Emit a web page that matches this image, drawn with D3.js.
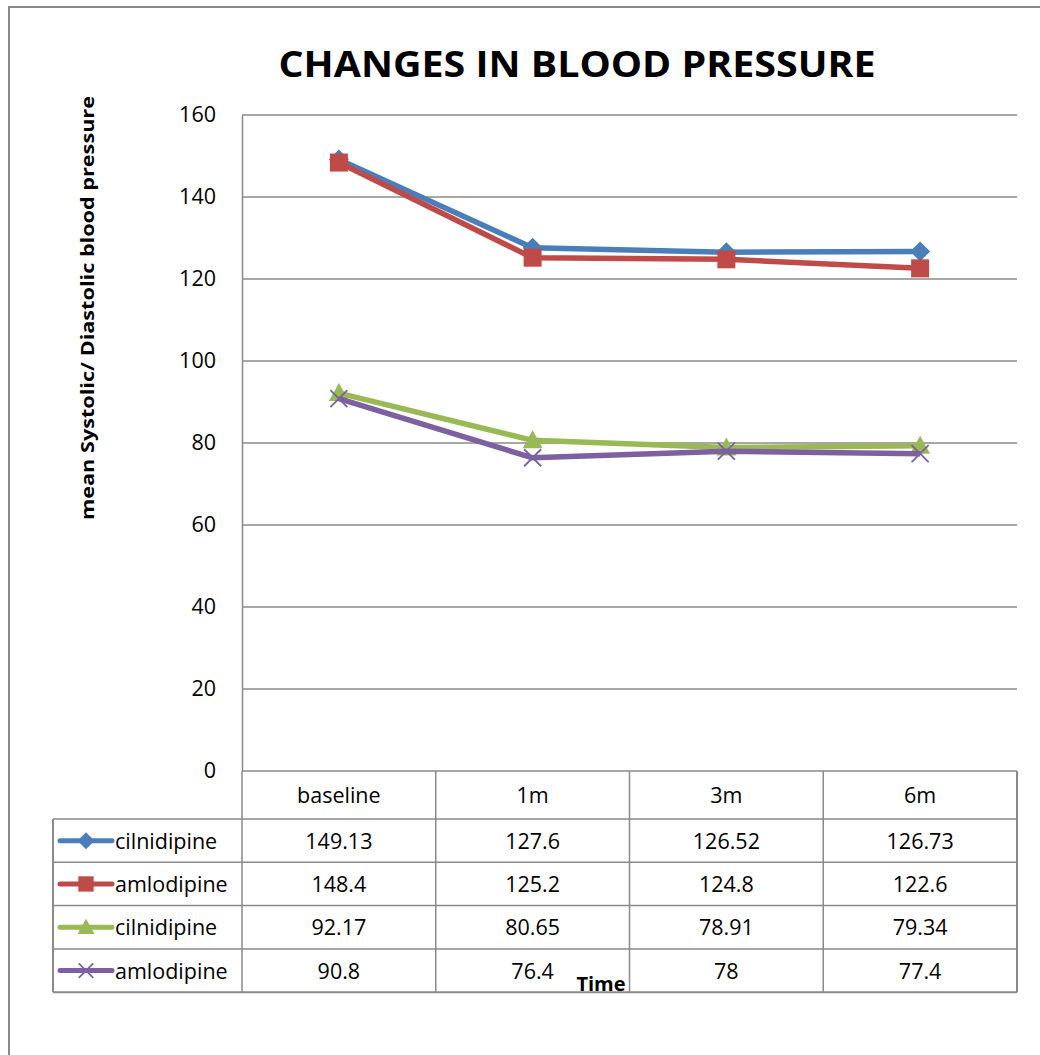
<!DOCTYPE html>
<html>
<head>
<meta charset="utf-8">
<script src="https://cdn.jsdelivr.net/npm/d3@7"></script>
<style>
  html, body { margin: 0; padding: 0; background: #fff; }
  svg { display: block; font-family: "Open Sans", "Liberation Sans", sans-serif; }
</style>
</head>
<body>
<div id="chart"></div>
<script>
// chart data
var categories = ["baseline", "1m", "3m", "6m"];
var seriesNames = ["cilnidipine", "amlodipine", "cilnidipine", "amlodipine"];
var cilSystolic = [149.13, 127.6, 126.52, 126.73];
var amlSystolic = [148.4, 125.2, 124.8, 122.6];
var cilDiastolic = [92.17, 80.65, 78.91, 79.34];
var amlDiastolic = [90.8, 76.4, 78, 77.4];
var yTicks = [0, 20, 40, 60, 80, 100, 120, 140, 160];

var series = [cilSystolic, amlSystolic, cilDiastolic, amlDiastolic];
var colors = ["#4A7EBB", "#BE4B48", "#98B954", "#7D60A0"];
var markerTypes = ["diamond", "square", "triangle", "cross"];

var W = 1040, H = 1055;
var plot = {left: 242, right: 1017, top: 115, bottom: 771};
var rowH = 43.3, headH = 48, tableLeft = 53;
var grey = "#8a8a8a";
var fs = 21.5;

var svg = d3.select("#chart").append("svg")
    .attr("width", W).attr("height", H);

// outer frame (right and bottom lie outside the picture)
svg.append("path")
    .attr("d", "M9,1055 V7 H1040")
    .attr("fill", "none").attr("stroke", grey).attr("stroke-width", 2);

var x = d3.scaleBand().domain(categories).range([plot.left, plot.right]);
var y = d3.scaleLinear().domain([0, 160]).range([plot.bottom, plot.top]);

// gridlines
svg.append("g").selectAll("line").data(yTicks).enter().append("line")
    .attr("x1", plot.left).attr("x2", plot.right)
    .attr("y1", function(d) { return y(d); })
    .attr("y2", function(d) { return y(d); })
    .attr("stroke", grey).attr("stroke-width", 1.5);

// y axis
var yAxis = svg.append("g")
    .attr("transform", "translate(" + plot.left + ",0)")
    .call(d3.axisLeft(y).tickValues(yTicks).tickSize(0).tickPadding(26));
yAxis.select(".domain").attr("stroke", grey).attr("stroke-width", 1.5);
yAxis.selectAll("text").attr("font-size", fs).attr("fill", "#000")
    .attr("font-family", "Open Sans");

// title
svg.append("text")
    .attr("x", 577).attr("y", 77)
    .attr("text-anchor", "middle")
    .attr("font-size", 36).attr("font-weight", "bold")
    .attr("textLength", 597).attr("lengthAdjust", "spacingAndGlyphs")
    .text("CHANGES IN BLOOD PRESSURE");

// y axis title
svg.append("text")
    .attr("transform", "translate(94,308) rotate(-90)")
    .attr("text-anchor", "middle")
    .attr("font-size", 18.5).attr("font-weight", "bold")
    .attr("textLength", 424).attr("lengthAdjust", "spacingAndGlyphs")
    .text("mean Systolic/ Diastolic blood pressure");

function drawMarker(g, type, color, size) {
    var h = size / 2;
    if (type === "diamond") {
        g.append("path").attr("d", "M0," + (-h) + "L" + h + ",0L0," + h + "L" + (-h) + ",0Z")
            .attr("fill", color);
    } else if (type === "square") {
        g.append("rect").attr("x", -h * 0.9).attr("y", -h * 0.9)
            .attr("width", size * 0.9).attr("height", size * 0.9).attr("fill", color);
    } else if (type === "triangle") {
        g.append("path").attr("d", "M0," + (-h) + "L" + h + "," + (h * 0.8) + "L" + (-h) + "," + (h * 0.8) + "Z")
            .attr("fill", color);
    } else {
        var c = h * 0.85;
        g.append("path").attr("d", "M" + (-c) + "," + (-c) + "L" + c + "," + c + "M" + (-c) + "," + c + "L" + c + "," + (-c))
            .attr("stroke", color).attr("stroke-width", 1.8).attr("fill", "none");
    }
}

var line = d3.line()
    .x(function(d, i) { return x(categories[i]) + x.bandwidth() / 2; })
    .y(function(d) { return y(d); });

series.forEach(function(vals, si) {
    svg.append("path").datum(vals)
        .attr("d", line)
        .attr("fill", "none")
        .attr("stroke", colors[si]).attr("stroke-width", 5.5)
        .attr("stroke-linejoin", "round");
    vals.forEach(function(v, i) {
        var g = svg.append("g")
            .attr("transform", "translate(" + (x(categories[i]) + x.bandwidth() / 2) + "," + y(v) + ")");
        drawMarker(g, markerTypes[si], colors[si], 20);
    });
});

// data table
var table = svg.append("g");
var tableBottom = plot.bottom + headH + rowH * series.length;

// column separators
categories.forEach(function(c, i) {
    table.append("line")
        .attr("x1", x(c)).attr("x2", x(c))
        .attr("y1", plot.bottom).attr("y2", tableBottom)
        .attr("stroke", grey).attr("stroke-width", 1.5);
});
table.append("line")
    .attr("x1", plot.right).attr("x2", plot.right)
    .attr("y1", plot.bottom).attr("y2", tableBottom)
    .attr("stroke", grey).attr("stroke-width", 2);
table.append("line")
    .attr("x1", tableLeft).attr("x2", tableLeft)
    .attr("y1", plot.bottom + headH).attr("y2", tableBottom)
    .attr("stroke", grey).attr("stroke-width", 2);

// row separators
d3.range(series.length + 1).forEach(function(r) {
    var yy = plot.bottom + headH + r * rowH;
    table.append("line")
        .attr("x1", tableLeft).attr("x2", plot.right)
        .attr("y1", yy).attr("y2", yy)
        .attr("stroke", grey).attr("stroke-width", r === series.length ? 2 : 1.5);
});

// header labels
table.selectAll(".hdr").data(categories).enter().append("text")
    .attr("x", function(d) { return x(d) + x.bandwidth() / 2; })
    .attr("y", plot.bottom + headH / 2 + 8)
    .attr("text-anchor", "middle").attr("font-size", fs)
    .text(function(d) { return d; });

series.forEach(function(vals, si) {
    var cy = plot.bottom + headH + si * rowH + rowH / 2;
    // legend key
    table.append("line")
        .attr("x1", 60).attr("x2", 112).attr("y1", cy).attr("y2", cy)
        .attr("stroke", colors[si]).attr("stroke-width", 5)
        .attr("stroke-linecap", "round");
    var g = table.append("g").attr("transform", "translate(86," + cy + ")");
    drawMarker(g, markerTypes[si], colors[si], 17);
    table.append("text")
        .attr("x", 115).attr("y", cy + 8)
        .attr("font-size", fs)
        .text(seriesNames[si]);
    vals.forEach(function(v, i) {
        table.append("text")
            .attr("x", x(categories[i]) + x.bandwidth() / 2)
            .attr("y", cy + 8)
            .attr("text-anchor", "middle").attr("font-size", fs)
            .text(v);
    });
});

// x axis title
svg.append("text")
    .attr("x", 601).attr("y", 991)
    .attr("text-anchor", "middle")
    .attr("font-size", 20).attr("font-weight", "bold")
    .text("Time");
</script>
</body>
</html>
